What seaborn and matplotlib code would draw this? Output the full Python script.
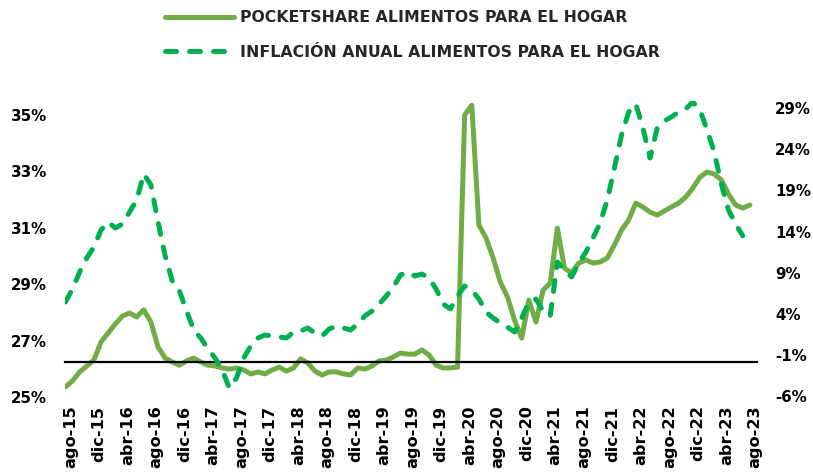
import numpy as np
import pandas as pd
import matplotlib
matplotlib.use("Agg")
import matplotlib.pyplot as plt
import matplotlib.transforms as mtransforms
import seaborn as sns

# monthly values, ago-15 .. ago-23 (97 months)
pocketshare = [
    25.36, 25.57, 25.89, 26.10, 26.31, 26.95, 27.27, 27.59, 27.87, 27.98,
    27.84, 28.09, 27.66, 26.77, 26.38, 26.24, 26.13, 26.28, 26.38, 26.24,
    26.13, 26.10, 26.03, 25.99, 26.03, 25.96, 25.82, 25.89, 25.82, 25.96,
    26.06, 25.92, 26.03, 26.35, 26.21, 25.92, 25.78, 25.89, 25.89, 25.82,
    25.78, 26.03, 25.99, 26.10, 26.28, 26.31, 26.42, 26.56, 26.52, 26.52,
    26.67, 26.49, 26.13, 26.03, 26.03, 26.06, 35.00, 35.35, 31.10, 30.64,
    29.93, 29.08, 28.55, 27.73, 27.09, 28.44, 27.66, 28.79, 29.04, 30.99,
    29.57, 29.40, 29.75, 29.86, 29.75, 29.79, 29.93, 30.39, 30.92, 31.28,
    31.88, 31.74, 31.56, 31.45, 31.60, 31.74, 31.88, 32.09, 32.41, 32.80,
    32.98, 32.91, 32.70, 32.20, 31.81, 31.70, 31.81,
]
inflacion = [
    5.46, 7.03, 9.10, 10.80, 12.13, 14.19, 15.17, 14.44, 14.92, 16.38,
    17.83, 20.99, 19.66, 15.17, 11.04, 8.00, 6.79, 4.36, 2.06, 1.09,
    -0.25, -1.34, -2.80, -4.98, -3.77, -1.34, 0.12, 1.09, 1.45, 1.33,
    1.21, 1.09, 1.82, 1.94, 2.30, 1.69, 1.33, 2.18, 2.54, 2.30,
    2.06, 2.79, 3.76, 4.36, 5.21, 6.18, 7.28, 8.73, 9.10, 8.61,
    8.85, 8.37, 7.03, 5.21, 4.61, 6.18, 7.40, 6.91, 5.82, 4.24,
    3.51, 2.91, 2.42, 1.82, 3.51, 5.46, 5.82, 4.36, 3.76, 10.31,
    9.30, 8.50, 10.19, 11.52, 13.22, 15.04, 17.83, 21.72, 25.72, 28.51,
    29.49, 26.57, 22.93, 26.57, 27.42, 27.91, 28.51, 28.88, 29.73, 28.76,
    26.33, 23.66, 19.78, 16.62, 14.92, 13.50, np.nan,
]
tick_labels = [
    "ago-15", "dic-15", "abr-16", "ago-16", "dic-16", "abr-17", "ago-17",
    "dic-17", "abr-18", "ago-18", "dic-18", "abr-19", "ago-19", "dic-19",
    "abr-20", "ago-20", "dic-20", "abr-21", "ago-21", "dic-21", "abr-22",
    "ago-22", "dic-22", "abr-23", "ago-23",
]
left_ticks = [25, 27, 29, 31, 33, 35]
right_ticks = [-6, -1, 4, 9, 14, 19, 24, 29]

label_share = "POCKETSHARE ALIMENTOS PARA EL HOGAR"
label_infl = "INFLACIÓN ANUAL ALIMENTOS PARA EL HOGAR"

SOLID = "#70AD47"
DASHED = "#00B050"

df = pd.DataFrame({"mes": np.arange(len(pocketshare)),
                   "share": pocketshare,
                   "infl": inflacion})

sns.set_theme(style="white")
plt.rcParams["font.family"] = ["DejaVu Sans"]
plt.rcParams["font.weight"] = "bold"

fig = plt.figure(figsize=(8.13, 4.75), dpi=100)
ax = fig.add_axes([65 / 813, 1 - 397 / 475, 692 / 813, 296 / 475])
ax2 = ax.twinx()

sns.lineplot(data=df, x="mes", y="share", ax=ax, color=SOLID, lw=3.6,
             solid_capstyle="round", label=label_share, legend=False)
sns.lineplot(data=df.dropna(), x="mes", y="infl", ax=ax2, color=DASHED, lw=3.6,
             linestyle=(0, (2.2, 2.6)), dash_capstyle="round",
             label=label_infl, legend=False)

ax.set_xlim(-0.05, 97)
ax.set_ylim(25, 35.5)
ax2.set_ylim(-6.07, 29.85)

ax.set_yticks(left_ticks, [f"{v}%" for v in left_ticks])
ax2.set_yticks(right_ticks, [f"{v}%" for v in right_ticks])
ax.set_xticks(np.arange(0, 97, 4), tick_labels)

for a in (ax, ax2):
    a.set_xlabel("")
    a.set_ylabel("")
    for s in a.spines.values():
        s.set_visible(False)

# horizontal category axis crossing inside the plot
ax.spines["bottom"].set_visible(True)
ax.spines["bottom"].set_position(("data", 26.24))
ax.spines["bottom"].set_color("black")
ax.spines["bottom"].set_linewidth(1.6)

ax.tick_params(axis="x", direction="out", length=4.3, width=1.4, color="black",
               pad=27, labelsize=11.6, labelcolor="black", labelrotation=90)
ax.tick_params(axis="y", length=0, pad=13, labelsize=10.8, labelcolor="black")
ax2.tick_params(axis="y", length=0, pad=13, labelsize=10.8, labelcolor="black")

shift = mtransforms.ScaledTranslation(5 / 100, 0, fig.dpi_scale_trans)
for lab in ax.get_xticklabels():
    lab.set_transform(lab.get_transform() + shift)

fig.legend(handles=[ax.lines[0], ax2.lines[0]], labels=[label_share, label_infl],
           loc="upper left", bbox_to_anchor=(165 / 813, 1 - 10 / 475),
           frameon=False, fontsize=11.3, handlelength=4.4, handletextpad=0.4,
           labelspacing=1.27, borderpad=0, borderaxespad=0)

fig.savefig("out.png", dpi=100)
